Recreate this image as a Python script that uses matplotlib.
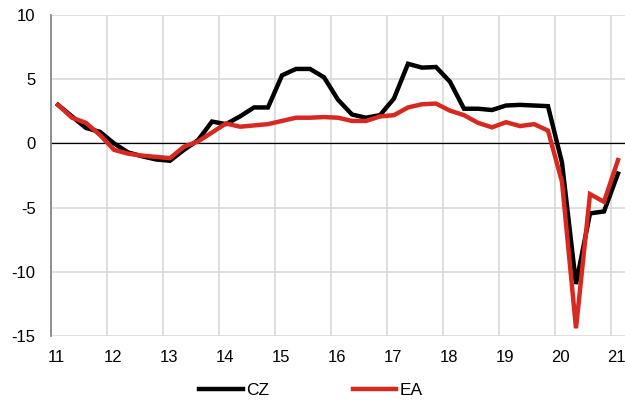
import numpy as np
import matplotlib
matplotlib.use("Agg")
import matplotlib.pyplot as plt

plt.rcParams["font.family"] = ["Liberation Sans", "DejaVu Sans"]
plt.rcParams["axes.unicode_minus"] = False

# === data: quarterly, 2011Q1 .. 2021Q1 ===
years = list(range(11, 22))
cz = [3.0, 2.1, 1.2, 0.9, 0.0, -0.7, -1.0, -1.25, -1.35, -0.5,
      0.25, 1.7, 1.5, 2.1, 2.8, 2.8, 5.3, 5.8, 5.8, 5.15,
      3.4, 2.25, 2.0, 2.2, 3.5, 6.2, 5.9, 5.95, 4.8, 2.7,
      2.7, 2.6, 2.95, 3.0, 2.95, 2.9, -1.5, -10.95, -5.45, -5.3,
      -2.35]
ea = [3.0, 2.0, 1.6, 0.65, -0.5, -0.8, -0.95, -1.05, -1.15, -0.25,
      0.15, 0.85, 1.55, 1.3, 1.4, 1.5, 1.75, 2.0, 2.0, 2.05,
      2.0, 1.75, 1.75, 2.1, 2.2, 2.8, 3.05, 3.1, 2.55, 2.2,
      1.6, 1.25, 1.65, 1.35, 1.5, 1.0, -3.0, -14.4, -3.95, -4.55,
      -1.3]

# points sit in the middle of each quarter
x = np.array([11 + 0.25 * i + 0.125 for i in range(len(cz))])

fig = plt.figure(figsize=(6.25, 4.03), dpi=100)
ax = fig.add_axes([51 / 625, 1 - 336 / 403, 574 / 625, 321 / 403])

ax.plot(x, cz, color="black", lw=3.2, solid_joinstyle="miter", zorder=3, label="CZ")
ax.plot(x, ea, color="#d7291f", lw=3.2, solid_joinstyle="miter", zorder=4, label="EA")
ax.axhline(0, color="black", lw=0.9, zorder=2)

ax.set_xlim(11, 21.25)
ax.set_ylim(-15, 10)
ax.set_yticks([-15, -10, -5, 0, 5, 10])
ax.set_xticks([y + 0.1 for y in years])
ax.set_xticklabels([str(y) for y in years])
ax.set_xticks(years, minor=True)
ax.grid(False)
ax.grid(True, which="minor", axis="x", color="#d9d9d9", lw=1.2)
ax.grid(True, which="major", axis="y", color="#d9d9d9", lw=1.2)
ax.set_axisbelow(True)

for s in ["top", "right", "bottom"]:
    ax.spines[s].set_visible(False)
ax.spines["left"].set_color("#868686")
ax.spines["left"].set_linewidth(1.3)

ax.tick_params(axis="both", which="both", length=0, labelsize=12)
ax.tick_params(axis="y", pad=11)
ax.tick_params(axis="x", pad=10)

fig.legend(loc="center", bbox_to_anchor=(0.4976, 1 - 390 / 403), ncol=2, frameon=False,
           fontsize=12.5, handlelength=2.5, handletextpad=0.2, columnspacing=4.8)

fig.savefig("out.png", dpi=100)
